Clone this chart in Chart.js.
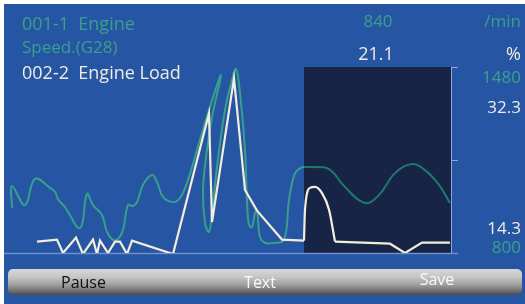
<!DOCTYPE html>
<html><head><meta charset="utf-8">
<script src="https://cdn.jsdelivr.net/npm/chart.js@4/dist/chart.umd.min.js"></script>
<style>
html,body{margin:0;padding:0;background:#fff;}
#wrap{position:relative;width:525px;height:304px;overflow:hidden;font-family:"Open Sans",sans-serif;}
#bg{position:absolute;left:4px;top:4px;right:0;bottom:0;background:#2655a4;}
canvas{position:absolute;left:0;top:0;}
.t{position:absolute;white-space:pre;line-height:1;}
.teal{color:#3aa08a;}
.wh{color:#f0ece0;}
#bar{position:absolute;left:8px;top:269px;width:514px;height:26px;border-radius:5px;
background:linear-gradient(to bottom,#d6d6d6 0%,#c6c6c6 30%,#a0a0a0 60%,#6e6e6e 85%,#4a4a4a 100%);}
</style></head>
<body>
<div id="wrap">
<div id="bg"></div>
<canvas id="c" width="525" height="304"></canvas>
<div class="t teal" style="left:22px;top:14px;font-size:18px">001-1  Engine</div>
<div class="t teal" style="left:22px;top:38px;font-size:17px">Speed.(G28)</div>
<div class="t wh" style="left:22px;top:63px;font-size:18px">002-2  Engine Load</div>
<div class="t teal" style="left:338px;width:80px;text-align:center;top:12px;font-size:17px">840</div>
<div class="t teal" style="right:4px;top:12px;font-size:17px">/min</div>
<div class="t wh" style="left:336px;width:80px;text-align:center;top:44px;font-size:18px">21.1</div>
<div class="t wh" style="right:4px;top:44px;font-size:18px">%</div>
<div class="t teal" style="right:4px;top:68px;font-size:17px">1480</div>
<div class="t wh" style="right:4px;top:98px;font-size:17px">32.3</div>
<div class="t wh" style="right:4px;top:219px;font-size:17px">14.3</div>
<div class="t teal" style="right:4px;top:238px;font-size:17px">800</div>
<div id="bar"></div>
<div class="t" style="left:61px;top:274px;font-size:16px;color:#111">Pause</div>
<div class="t" style="left:220px;width:80px;text-align:center;top:274px;font-size:16px;color:#fafafa">Text</div>
<div class="t" style="left:397px;width:80px;text-align:center;top:271px;font-size:16px;color:#fafafa">Save</div>
</div>
<script>
// Engine speed (rpm) over time
const speedTime = [8,8,21,31,46,51,54,61,76,83,89,98,103,109,114,119,124,129,133,139,148,153,159,169,176,183,193,204,217,208,203,199,201,205,208,213,221,228,232,236,241,243,245,248,251,253,256,261,269,280,285,291,297,300,308,325,341,361,375,391,408,421,435,446];
const speedRpm  = [965,1045,975,1071,1038,1023,997,968,891,1016,975,939,877,848,851,884,975,972,986,1049,1085,1060,1005,986,1001,1056,1177,1312,1451,1297,1177,1030,910,877,946,1114,1323,1432,1473,1385,1177,994,902,895,946,957,858,837,837,848,994,1092,1111,1114,1114,1107,1041,983,1012,1092,1125,1103,1049,983];
// Engine load (%) over time
const loadTime = [33,53,59,72,79,89,93,96,104,111,116,123,128,169,205,208,230,241,253,278,300];
const loadPct  = [15.4,15.6,14.3,15.8,14.2,15.6,14.2,15.5,14.3,15.4,15.4,14.2,15.5,14.2,27.8,17.3,31.2,20.4,18.4,15.6,15.5];
const bumpTime = [300,301,306,311,318,325,331];
const bumpPct  = [15.5,18.5,20.6,20.7,20.1,18.5,15.4];
const tailTime = [331,386,401,418,446];
const tailPct  = [15.4,15.2,14.3,15.3,15.3];
// axis ranges / labels
const rpmRange = [800,1480];
const loadRange = [14.3,32.3];
const timeRange = [0,447];
const windowStart = 300;

const pts = (xs, ys) => xs.map((x,i)=>({x:x,y:ys[i]}));
const TEAL='#38a08a', TEAL_DARK='#1d7a6c', CREAM='#f3eddb';

const deco = {
  id:'deco',
  beforeDatasetsDraw(chart){
    const {ctx, chartArea:a, scales:{x}} = chart;
    const xs = x.getPixelForValue(windowStart);
    ctx.save();
    ctx.fillStyle='#182445';
    ctx.fillRect(xs, a.top, a.right-xs, a.bottom-a.top);
    ctx.strokeStyle='#6f8fcf';
    ctx.lineWidth=1.5;
    ctx.beginPath();
    ctx.moveTo(a.left, a.bottom+0.5); ctx.lineTo(a.right+7, a.bottom+0.5);
    ctx.stroke();
    ctx.strokeStyle='#8ea8da';
    ctx.lineWidth=1;
    ctx.beginPath();
    ctx.moveTo(a.right+0.5, a.top); ctx.lineTo(a.right+0.5, a.bottom);
    ctx.moveTo(a.right, a.top+0.5); ctx.lineTo(a.right+7, a.top+0.5);
    const mid=(a.top+a.bottom)/2;
    ctx.moveTo(a.right, Math.round(mid)+0.5); ctx.lineTo(a.right+7, Math.round(mid)+0.5);
    ctx.stroke();
    ctx.restore();
  }
};

new Chart(document.getElementById('c'), {
  type:'line',
  data:{datasets:[
    {data:pts(loadTime,loadPct), yAxisID:'yl', borderColor:CREAM, borderWidth:2.2, tension:0, pointRadius:0},
    {data:pts(bumpTime,bumpPct), yAxisID:'yl', borderColor:CREAM, borderWidth:2.2, cubicInterpolationMode:'monotone', pointRadius:0},
    {data:pts(tailTime,tailPct), yAxisID:'yl', borderColor:CREAM, borderWidth:2.2, tension:0, pointRadius:0},
    {data:pts(speedTime,speedRpm), yAxisID:'yr', borderColor:TEAL, borderWidth:2, tension:0.4, pointRadius:0,
     segment:{borderColor:c=> c.p0.parsed.x>=windowStart ? TEAL_DARK : TEAL}}
  ]},
  options:{
    responsive:false, animation:false, devicePixelRatio:1,
    layout:{padding:{left:4,top:67,right:74,bottom:51}},
    plugins:{legend:{display:false},tooltip:{enabled:false}},
    scales:{
      x:{type:'linear',display:false,min:timeRange[0],max:timeRange[1]},
      yr:{display:false,min:rpmRange[0],max:rpmRange[1]},
      yl:{display:false,min:loadRange[0],max:loadRange[1]}
    }
  },
  plugins:[deco]
});
</script>
</body></html>
